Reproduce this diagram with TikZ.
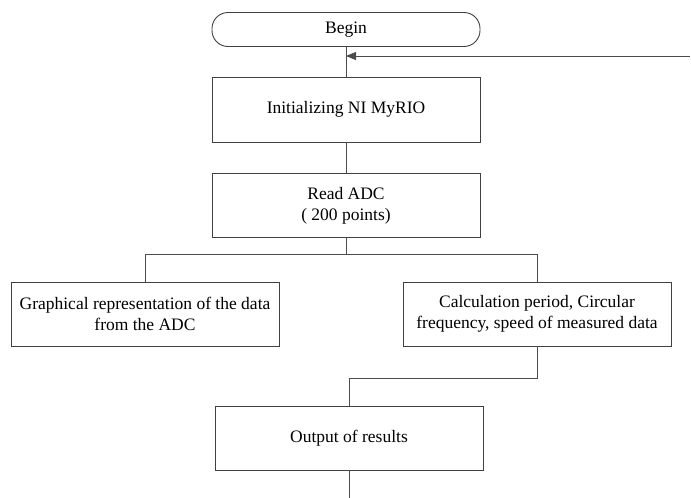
\documentclass[tikz,border=0pt]{standalone}
\usepackage{fontspec}
\setmainfont{Liberation Serif}
\usetikzlibrary{arrows.meta}

\tikzset{
    blockbox/.style={draw=black!75, line width=0.9pt, rectangle, minimum width=268pt,
        minimum height=64pt, align=center, inner sep=2pt, font=\fontsize{17.5}{21}\selectfont},
    termbox/.style={blockbox, minimum height=34pt, rounded corners=16pt},
    link/.style={draw=black!70, line width=0.9pt}
}

\begin{document}
\begin{tikzpicture}[x=1pt, y=-1pt]
    \useasboundingbox (0, 0) rectangle (691, 498);

    % The blocks
    \node[termbox] (begin) at (346, 29.5) {Begin};
    \node[blockbox, minimum height=65pt] (init) at (346, 109.5) {Initializing NI MyRIO};
    \node[blockbox] (read) at (346, 205.5) {Read ADC\\( 200 points)};
    \node[blockbox] (graph) at (145, 314) {Graphical representation of the data\\from the ADC};
    \node[blockbox] (calc) at (537, 314) {Calculation period, Circular\\frequency, speed of measured data};
    \node[blockbox] (output) at (349, 438) {Output of results};

    % Free ends
    \coordinate (loopin) at (690, 56);
    \coordinate (split) at (346, 254);
    \coordinate (join) at (537, 378);
    \coordinate (bottom) at (349, 498);

    % Connectors
    \draw[link] (begin.south) -- (init.north);
    \draw[link, -{Triangle[length=10pt, width=8pt]}] (loopin) -- (begin.south |- loopin);
    \draw[link] (init.south) -- (read.north);
    \draw[link] (read.south) -- (split) -| (graph.north);
    \draw[link] (split) -| (calc.north);
    \draw[link] (calc.south) -- (join) -| (output.north);
    \draw[link] (output.south) -- (bottom);
\end{tikzpicture}
\end{document}
